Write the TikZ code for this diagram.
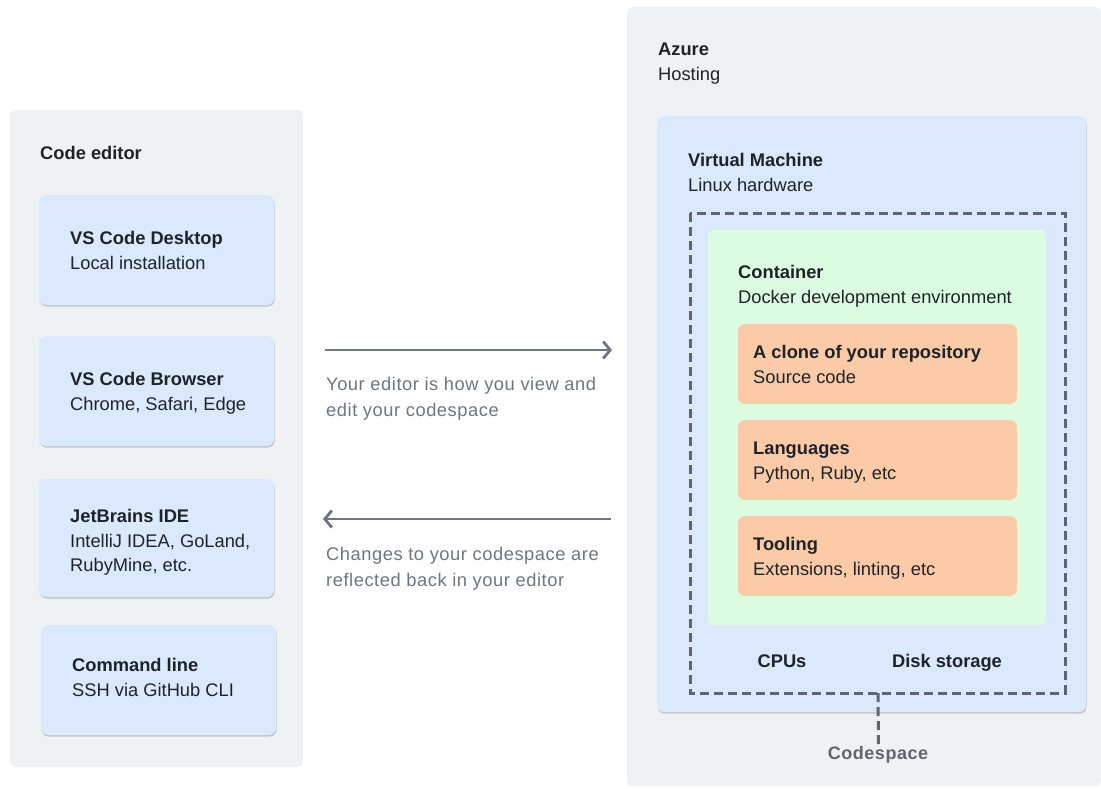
\documentclass[tikz,border=0pt]{standalone}
\usepackage{fontspec}
\setmainfont{Liberation Sans}
\newfontfamily\spacedfont[LetterSpace=3]{Liberation Sans}
\usetikzlibrary{arrows.meta,shadows}
\definecolor{panelgray}{HTML}{EFF2F5}
\definecolor{boxblue}{HTML}{DAEAFC}
\definecolor{boxgreen}{HTML}{DCFCE2}
\definecolor{boxorange}{HTML}{FACBA6}
\definecolor{txtdark}{HTML}{1F2328}
\definecolor{txtgray}{HTML}{6E7781}
\definecolor{arrowgray}{HTML}{6E7781}
\definecolor{dashgray}{HTML}{5F666D}
\begin{document}
\begin{tikzpicture}[x=1pt,y=-1pt,
  panel/.style={fill=panelgray, rounded corners=6pt, draw=none},
  card/.style={fill=boxblue, rounded corners=7pt, draw=none,
     drop shadow={shadow xshift=0.6pt, shadow yshift=-1.6pt, fill=black, opacity=0.18}},
  greenbox/.style={fill=boxgreen, rounded corners=6pt, draw=none},
  orangebox/.style={fill=boxorange, rounded corners=7pt, draw=none},
  ttl/.style={anchor=base west, inner sep=0pt, font=\fontsize{18.3}{21}\selectfont\bfseries, text=txtdark},
  sub/.style={anchor=base west, inner sep=0pt, font=\fontsize{18.3}{21}\selectfont, text=txtdark},
  note/.style={anchor=base west, inner sep=0pt, font=\spacedfont\fontsize{18.3}{21}\selectfont, text=txtgray},
  flow/.style={draw=arrowgray, line width=2.8pt, -{Straight Barb[length=7pt,width=17pt,line width=2.8pt]}},
  dashbox/.style={draw=dashgray, line width=3pt, dash pattern=on 9pt off 5pt},
]
\useasboundingbox (0,0) rectangle (1101,788);
\fill[white] (0,0) rectangle (1101,788);

% ---- left panel
\path[panel] (10,110) rectangle (303,767);
\node[ttl] (ce) at (40,159) {Code editor};

\path[card] (39,195) rectangle (274,305);
\node[ttl] (vsd) at (70,244) {VS Code Desktop};
\node[sub] (vsdS) at (70,269) {Local installation};

\path[card] (39,336) rectangle (274,446);
\node[ttl] (vsb) at (70,385) {VS Code Browser};
\node[sub] (vsbS) at (70,410) {Chrome, Safari, Edge};

\path[card] (39,479) rectangle (274,597);
\node[ttl] (jb) at (70,522) {JetBrains IDE};
\node[sub] (jbS1) at (70,547) {IntelliJ IDEA, GoLand,};
\node[sub] (jbS2) at (70,571) {RubyMine, etc.};

\path[card] (41,625) rectangle (276,735);
\node[ttl] (cl) at (72,671) {Command line};
\node[sub] (clS) at (72,696) {SSH via GitHub CLI};

% ---- right panel
\path[panel] (627,7) rectangle (1101,786);
\node[ttl] (az) at (658,55) {Azure};
\node[sub] (azS) at (658,80) {Hosting};

\path[card] (657,116) rectangle (1086,712);
\node[ttl] (vm) at (688,166) {Virtual Machine};
\node[sub] (vmS) at (688,191) {Linux hardware};

\path[greenbox] (708,230) rectangle (1046,625);
\node[ttl] (ct) at (738,278) {Container};
\node[sub] (ctS) at (738,303) {Docker development environment};

\path[orangebox] (738,324) rectangle (1017,404);
\node[ttl] (rp) at (753,358) {A clone of your repository};
\node[sub] (rpS) at (753,383) {Source code};

\path[orangebox] (738,420) rectangle (1017,500);
\node[ttl] (lg) at (753,454) {Languages};
\node[sub] (lgS) at (753,479) {Python, Ruby, etc};

\path[orangebox] (738,516) rectangle (1017,596);
\node[ttl] (tl) at (753,550) {Tooling};
\node[sub] (tlS) at (753,575) {Extensions, linting, etc};

\node[ttl, anchor=base] (cpu) at (782,667) {CPUs};
\node[ttl, anchor=base] (disk) at (947,667) {Disk storage};

\node[draw=none, minimum width=375pt, minimum height=480pt, inner sep=0pt] (cs) at (877.5,453) {};
\draw[dashbox] (690,213) rectangle (1065,693);

\node[anchor=base, inner sep=0pt, font=\fontsize{18}{21}\selectfont\bfseries\addfontfeatures{LetterSpace=3}, text=dashgray] (csl) at (878,759) {Codespace};
\draw[dashgray, line width=3pt, dash pattern=on 9pt off 5pt] (cs.south) ++(0.5,0) -- (csl.north -| 878.5,0) ++(0,-6);
% ---- arrows
\coordinate (a1s) at (325,350);
\coordinate (a1e) at (612,350);
\coordinate (a2s) at (611,519);
\coordinate (a2e) at (323,519);
\draw[flow] (a1s) -- (a1e);
\draw[flow] (a2s) -- (a2e);
\node[note] (n1) at (326,390) {Your editor is how you view and};
\node[note] (n2) at (326,416) {edit your codespace};
\node[note] (n3) at (326,560) {Changes to your codespace are};
\node[note] (n4) at (326,586) {reflected back in your editor};
\end{tikzpicture}
\end{document}
